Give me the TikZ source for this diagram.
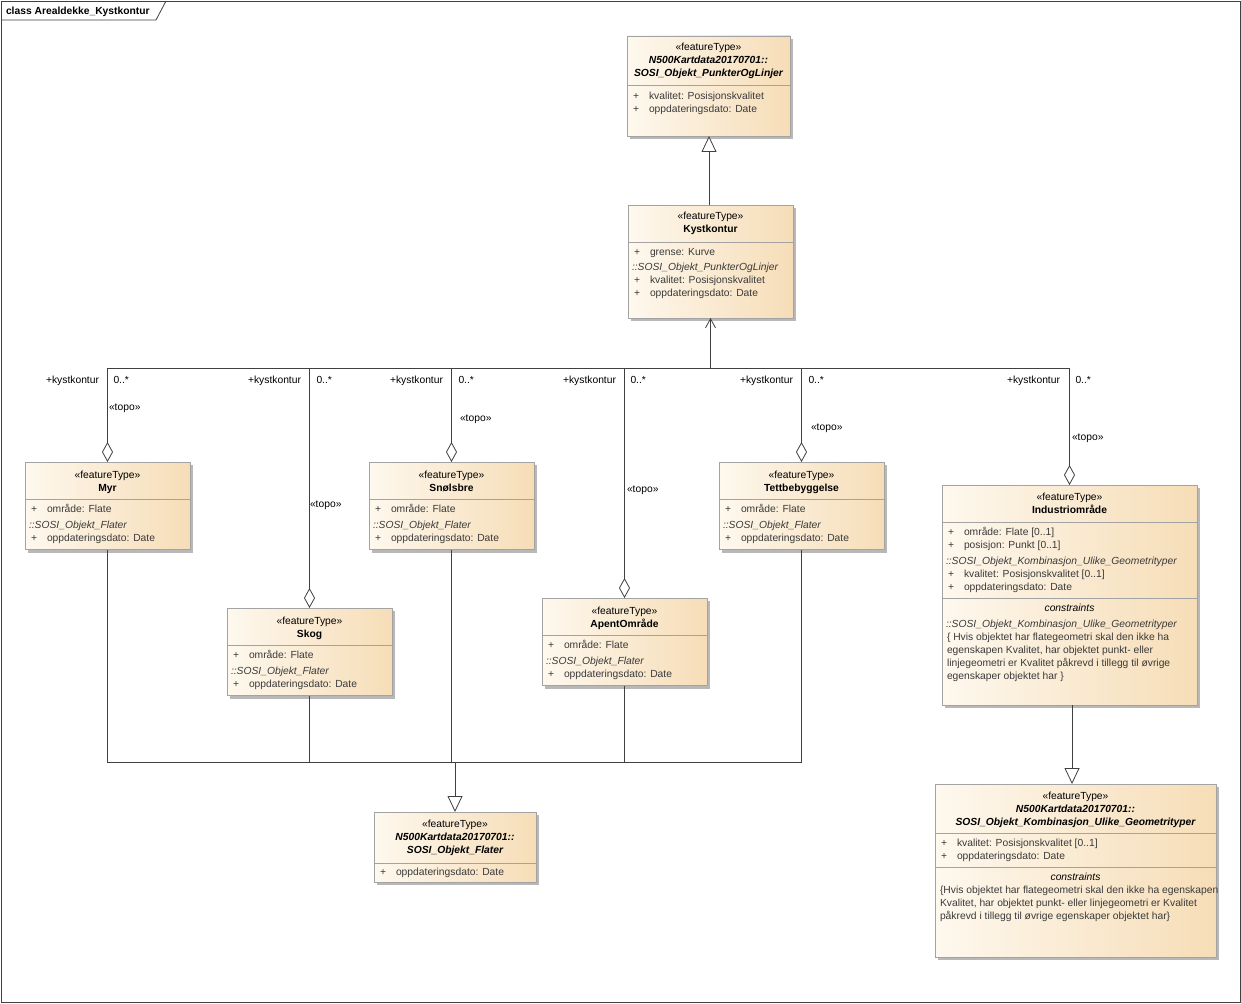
\documentclass[tikz,border=0pt]{standalone}
\usepackage{fontspec}
\setmainfont{Liberation Sans}
\usetikzlibrary{arrows.meta,calc}
\definecolor{boxl}{HTML}{FEF8EE}
\definecolor{boxr}{HTML}{F6DDB7}
\definecolor{bord}{HTML}{A3A3A3}
\definecolor{shad}{HTML}{B8B8B8}
\definecolor{attr}{HTML}{3A3A3A}
\definecolor{lin}{HTML}{404040}
\newcounter{tn}
\newcommand\tx[3][]{\stepcounter{tn}\node[#1] (t\thetn) at (#2) {#3};}
\newcommand\umlcls[5]{%
  \fill[shad] ({#2+3},{#3+3}) rectangle ({#4+3},{#5+3});
  \node[clsbox, minimum width={#4-#2}, minimum height={#5-#3}] (#1) at (#2,#3) {};}
\newcommand\dvline[3]{\draw[draw=bord,line width=0.8pt] (#1,#3) -- (#2,#3);}
\newcommand\atrow[3]{\tx[attrtxt]{{#1+6},#2}{+}\tx[attrtxt]{{#1+22},#2}{#3}}
\newcommand\itrow[3]{\tx[attrtxt]{{#1+4},#2}{\itshape #3}}
% small class: name, left, top, title
\newcommand\smallcls[4]{%
  \umlcls{#1}{#2}{#3}{#2+165}{#3+87.5}
  \dvline{#2}{#2+165}{#3+37}
  \tx[txc]{{#2+82.5},{#3+12.5}}{«featureType»}
  \tx[txc]{{#2+82.5},{#3+25.5}}{\bfseries #4}
  \atrow{#2}{#3+46.5}{område: Flate}
  \itrow{#2}{#3+62.5}{::SOSI\_Objekt\_Flater}
  \atrow{#2}{#3+75.5}{oppdateringsdato: Date}}
\tikzset{
  every node/.style={font=\fontsize{10.3}{12}\selectfont, inner sep=0pt, outer sep=0pt},
  clsbox/.style={draw=bord, line width=0.8pt, left color=boxl, right color=boxr, rectangle, anchor=north west},
  tsh/.style={yshift=-1.3pt},
  txc/.style={anchor=mid, tsh},
  attrtxt/.style={anchor=mid west, text=attr, tsh},
  lbr/.style={anchor=mid east, tsh},
  lbl/.style={anchor=mid west, tsh},
  conn/.style={draw=lin, line width=0.8pt},
  gen/.style={conn, -{Triangle[open, length=16pt, width=15pt, fill=white]}},
  agg/.style={conn, {Diamond[open, length=20pt, width=11pt, fill=white]}-},
  nav/.style={conn, -{Straight Barb[length=9pt, width=10pt]}},
}
\begin{document}
\begin{tikzpicture}[x=1pt,y=-1pt]
\useasboundingbox (0,0) rectangle (1241,1003);
\fill[white] (0,0) rectangle (1241,1003);
\draw[lin, line width=0.8pt] (1,1) rectangle (1240,1002);
\draw[lin, line width=0.8pt] (1,20) -- (156,20) -- (166,1);
\tx[lbl]{6,10.5}{\bfseries class Arealdekke\_Kystkontur}

% top: SOSI_Objekt_PunkterOgLinjer
\umlcls{pl}{627}{36}{790}{136}
\dvline{627}{790}{85}
\tx[txc]{708.5,47}{«featureType»}
\tx[txc]{708.5,60}{\bfseries\itshape N500Kartdata20170701::}
\tx[txc]{708.5,73}{\bfseries\itshape SOSI\_Objekt\_PunkterOgLinjer}
\atrow{627}{96}{kvalitet: Posisjonskvalitet}
\atrow{627}{109}{oppdateringsdato: Date}

% Kystkontur
\umlcls{kyst}{628}{205}{793}{318}
\dvline{628}{793}{242}
\tx[txc]{710.5,216}{«featureType»}
\tx[txc]{710.5,229}{\bfseries Kystkontur}
\atrow{628}{252}{grense: Kurve}
\itrow{628}{267}{::SOSI\_Objekt\_PunkterOgLinjer}
\atrow{628}{280}{kvalitet: Posisjonskvalitet}
\atrow{628}{293}{oppdateringsdato: Date}

% small classes
\smallcls{myr}{25}{462}{Myr}
\smallcls{skog}{227}{608}{Skog}
\smallcls{snol}{369}{462}{Snølsbre}
\smallcls{apent}{542}{598}{ApentOmråde}
\smallcls{tett}{719}{462}{Tettbebyggelse}

% Industriomraade
\umlcls{ind}{942}{485}{1197}{705}
\dvline{942}{1197}{522}
\dvline{942}{1197}{598}
\tx[txc]{1069.5,497}{«featureType»}
\tx[txc]{1069.5,510}{\bfseries Industriområde}
\atrow{942}{532}{område: Flate [0..1]}
\atrow{942}{545}{posisjon: Punkt [0..1]}
\itrow{942}{561}{::SOSI\_Objekt\_Kombinasjon\_Ulike\_Geometrityper}
\atrow{942}{574}{kvalitet: Posisjonskvalitet [0..1]}
\atrow{942}{587}{oppdateringsdato: Date}
\tx[txc]{1069.5,608}{\itshape constraints}
\itrow{942}{624}{::SOSI\_Objekt\_Kombinasjon\_Ulike\_Geometrityper}
\tx[attrtxt]{947,637}{\{ Hvis objektet har flategeometri skal den ikke ha}
\tx[attrtxt]{947,650}{egenskapen Kvalitet, har objektet punkt- eller}
\tx[attrtxt]{947,663}{linjegeometri er Kvalitet påkrevd i tillegg til øvrige}
\tx[attrtxt]{947,676}{egenskaper objektet har \}}

% SOSI_Objekt_Flater
\umlcls{flat}{374}{812}{536}{882}
\dvline{374}{536}{863}
\tx[txc]{455,824}{«featureType»}
\tx[txc]{455,836.5}{\bfseries\itshape N500Kartdata20170701::}
\tx[txc]{455,849.5}{\bfseries\itshape SOSI\_Objekt\_Flater}
\atrow{374}{872}{oppdateringsdato: Date}

% SOSI_Objekt_Kombinasjon_Ulike_Geometrityper
\umlcls{komb}{935}{784}{1216}{957}
\dvline{935}{1216}{833}
\dvline{935}{1216}{867}
\tx[txc]{1075.5,796}{«featureType»}
\tx[txc]{1075.5,808.5}{\bfseries\itshape N500Kartdata20170701::}
\tx[txc]{1075.5,821.5}{\bfseries\itshape SOSI\_Objekt\_Kombinasjon\_Ulike\_Geometrityper}
\atrow{935}{843}{kvalitet: Posisjonskvalitet [0..1]}
\atrow{935}{856}{oppdateringsdato: Date}
\tx[txc]{1075.5,877}{\itshape constraints}
\tx[attrtxt]{940,890}{\{Hvis objektet har flategeometri skal den ikke ha egenskapen}
\tx[attrtxt]{940,903}{Kvalitet, har objektet punkt- eller linjegeometri er Kvalitet}
\tx[attrtxt]{940,916}{påkrevd i tillegg til øvrige egenskaper objektet har\}}

% connectors
\draw[gen] ([xshift=-1.5pt]kyst.north) -- ([xshift=0.5pt]pl.south);
\coordinate (kj) at (710.5,368);
\draw[nav] (kj) -- (kyst.south);
\foreach \b in {myr,skog,snol,apent,tett,ind} {\draw[agg] (\b.north) |- (kj);}
\coordinate (gj) at (455,762);
\draw[gen] (gj) -- (flat.north);
\foreach \b in {myr,skog,snol,apent,tett} {\draw[conn] (\b.south) |- (gj);}
\draw[gen] ([xshift=2.5pt]ind.south) -- ([xshift=-3.5pt]komb.north);

% role labels
\tx[lbr]{99,380}{+kystkontur}   \tx[lbl]{113.5,380}{0..*}
\tx[lbr]{301,380}{+kystkontur}  \tx[lbl]{316.5,380}{0..*}
\tx[lbr]{443,380}{+kystkontur}  \tx[lbl]{458.5,380}{0..*}
\tx[lbr]{616,380}{+kystkontur}  \tx[lbl]{630.5,380}{0..*}
\tx[lbr]{793,380}{+kystkontur}  \tx[lbl]{808.5,380}{0..*}
\tx[lbr]{1060,380}{+kystkontur} \tx[lbl]{1075.5,380}{0..*}
\tx[lbl]{109,407}{«topo»}
\tx[lbl]{310,504}{«topo»}
\tx[lbl]{460,418}{«topo»}
\tx[lbl]{627,489}{«topo»}
\tx[lbl]{811,427}{«topo»}
\tx[lbl]{1072,437}{«topo»}
\end{tikzpicture}
\end{document}
